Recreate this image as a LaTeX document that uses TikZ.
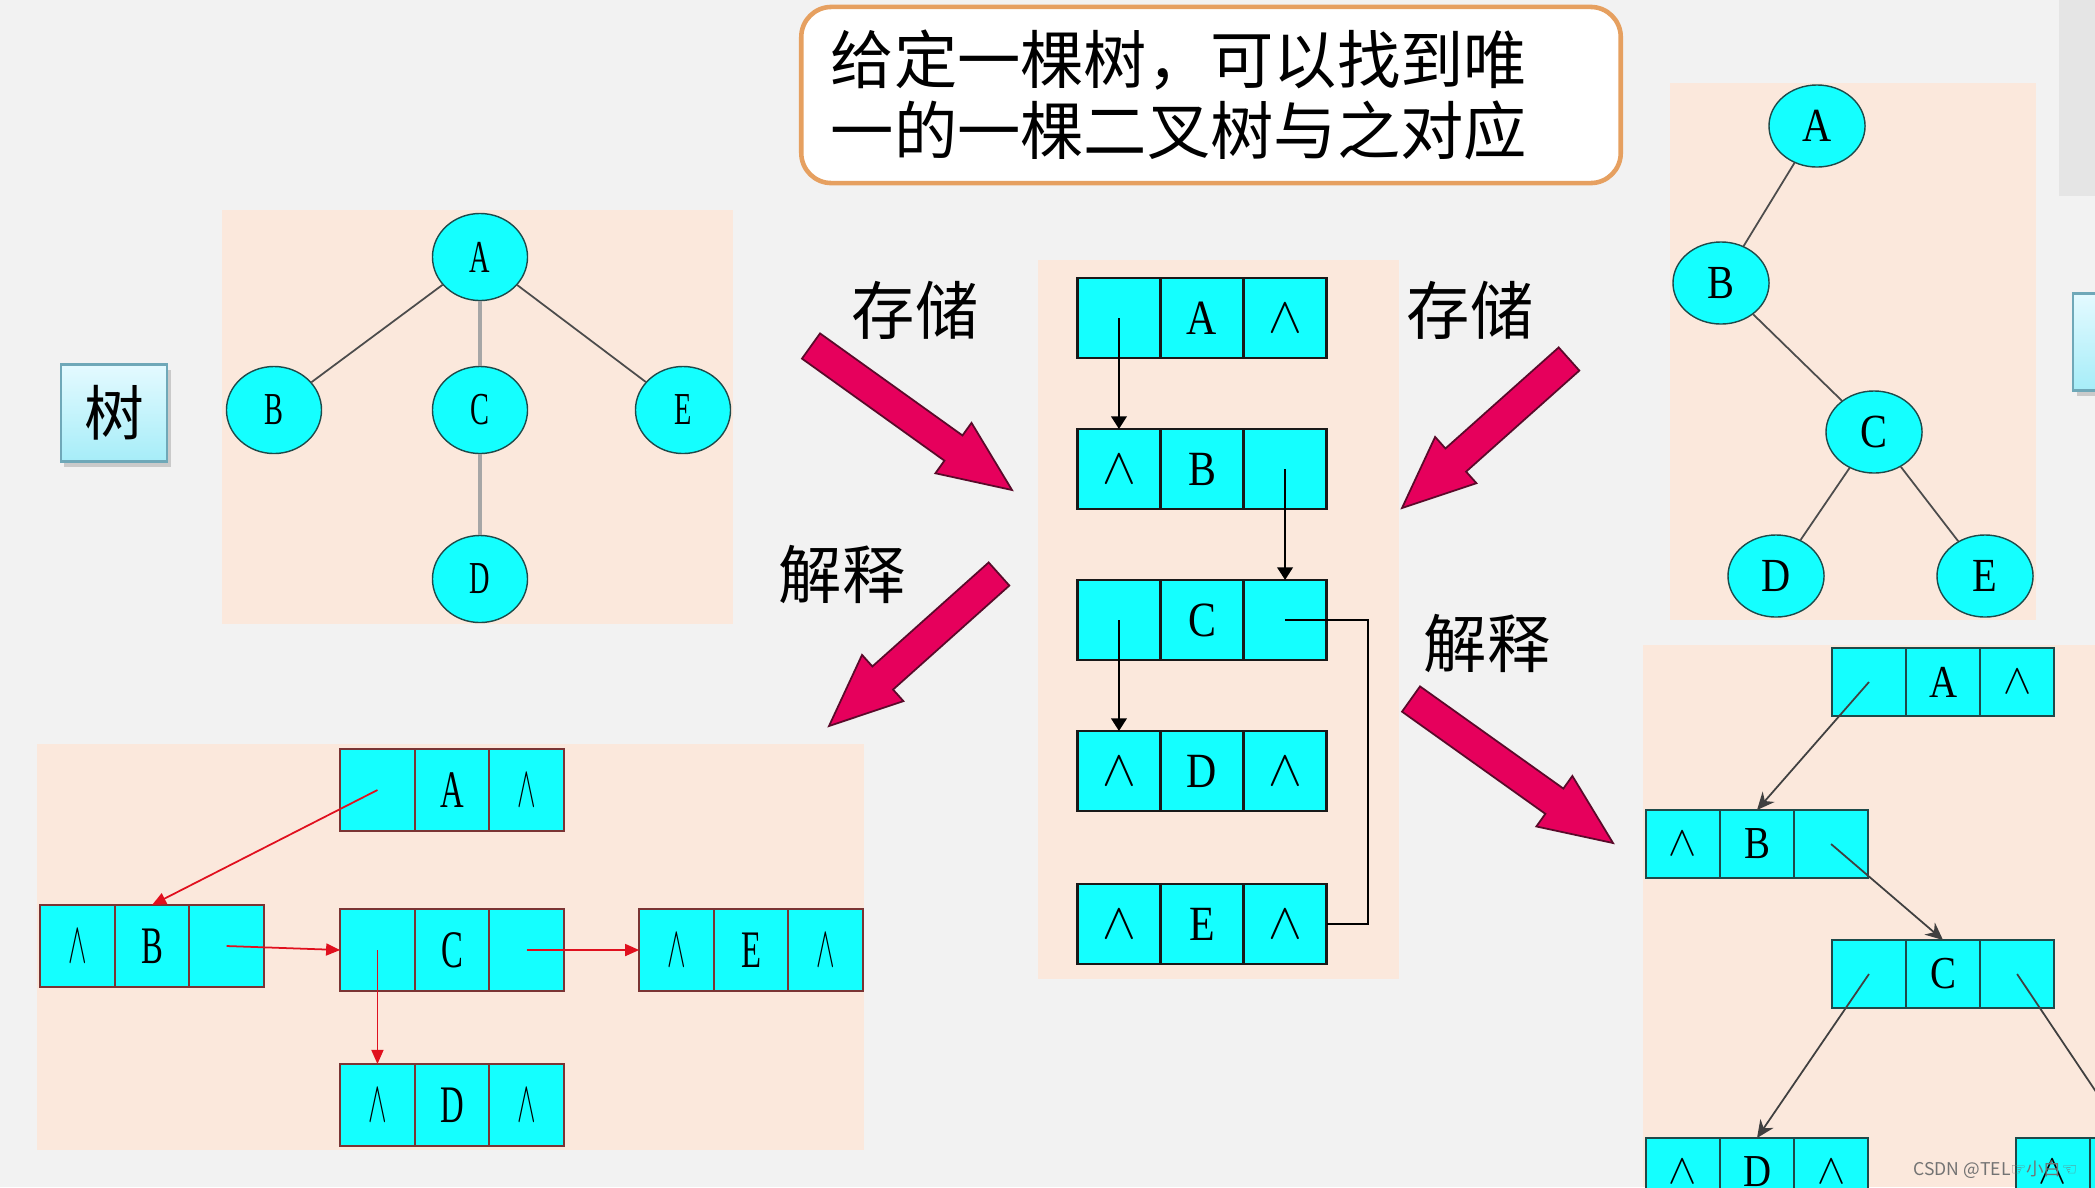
\documentclass[tikz,border=0pt]{standalone}
\usepackage{fontspec}
\usepackage{graphicx}
\setmainfont{Liberation Serif}
\newfontfamily\cjk{Noto Sans CJK SC}
\newfontfamily\narrowserif[FakeStretch=0.62]{Liberation Serif}
\newfontfamily\midserif[FakeStretch=0.85]{Liberation Serif}
\newfontfamily\symfont{DejaVu Sans}
\usetikzlibrary{shapes.geometric, arrows.meta, positioning, calc, shadows}

\definecolor{pagebg}{HTML}{F2F2F2}
\definecolor{peach}{HTML}{FBE8DC}
\definecolor{cellcyan}{HTML}{14FFFF}
\definecolor{nodeline}{HTML}{1E4A4A}
\definecolor{linkred}{HTML}{E0101E}
\definecolor{boxred}{HTML}{7A3434}
\definecolor{fatpink}{HTML}{E6005C}
\definecolor{fatedge}{HTML}{5A0A2A}
\definecolor{noteedge}{HTML}{E6A060}
\definecolor{skytop}{HTML}{E4FAFF}
\definecolor{skybot}{HTML}{A6EDF8}
\definecolor{boxedge}{HTML}{6FA8B8}

% null pointer marks
\newcommand{\nullmark}{$\wedge$}
\newcommand{\thinnull}{\scalebox{0.55}[1.15]{$\wedge$}}

% three-cell list node: name, centre, left, data, right, cell style
\newcommand{\listrow}[6]{%
  \node[#6] (#1-m) at #2 {#4};
  \node[#6, left=0pt of #1-m] (#1-l) {#3};
  \node[#6, right=0pt of #1-m] (#1-r) {#5};%
}

% fat block arrow: name, tail, tip
\newcommand{\fatarrow}[3]{%
  \coordinate (#1-t) at #2;
  \coordinate (#1-p) at #3;
  \coordinate (#1-n) at ($(#1-p)!0.72cm!(#1-t)$);
  \filldraw[fat] ($(#1-t)!0.155cm!90:(#1-p)$) -- ($(#1-n)!0.155cm!90:(#1-p)$)
    -- ($(#1-n)!0.31cm!90:(#1-p)$) -- (#1-p)
    -- ($(#1-n)!0.31cm!-90:(#1-p)$) -- ($(#1-n)!0.155cm!-90:(#1-p)$)
    -- ($(#1-t)!0.155cm!-90:(#1-p)$) -- cycle;%
}

\begin{document}
\begin{tikzpicture}[
  x=0.01cm, y=-0.01cm,
  panel/.style   = {fill=peach},
  tnode/.style   = {ellipse, draw=nodeline, fill=cellcyan, minimum width=0.95cm,
                    minimum height=0.87cm, inner sep=0pt,
                    font=\narrowserif\fontsize{13}{13}\selectfont},
  bnode/.style   = {tnode, minimum width=0.96cm, minimum height=0.82cm,
                    font=\midserif\fontsize{13.5}{13.5}\selectfont},
  tedge/.style   = {draw=black!70, line width=0.5pt},
  gedge/.style   = {draw=black!35, line width=1.1pt},
  mcell/.style   = {draw=black!90, line width=0.8pt, fill=cellcyan, minimum width=0.83cm,
                    minimum height=0.8cm, inner sep=0pt, outer sep=0pt,
                    font=\midserif\fontsize{14}{14}\selectfont},
  lcell/.style   = {draw=boxred, line width=0.6pt, fill=cellcyan, minimum width=0.745cm,
                    minimum height=0.82cm, inner sep=0pt, outer sep=0pt,
                    font=\narrowserif\fontsize{15}{15}\selectfont},
  rcell/.style   = {draw=nodeline, line width=0.7pt, fill=cellcyan, minimum width=0.74cm,
                    minimum height=0.68cm, inner sep=0pt, outer sep=0pt,
                    font=\midserif\fontsize{13}{13}\selectfont},
  blink/.style   = {-{Triangle[length=3.6pt, width=4.4pt]}, line width=0.7pt},
  redlink/.style = {-{Triangle[length=4pt, width=3.4pt]}, draw=linkred, line width=0.5pt,
                    fill=linkred},
  slink/.style   = {-{Stealth[length=5pt, width=4.5pt]}, draw=black!75, line width=0.5pt},
  actword/.style = {font=\cjk\fontsize{18}{18}\selectfont},
  fat/.style     = {fill=fatpink, draw=fatedge, line width=0.5pt, line join=miter},
  treebox/.style = {draw=boxedge, line width=0.8pt, top color=skytop, bottom color=skybot,
                    minimum width=1.06cm, minimum height=0.97cm,
                    font=\cjk\fontsize{17}{17}\selectfont,
                    drop shadow={shadow xshift=1pt, shadow yshift=-1.5pt, opacity=0.35}},
  note/.style    = {draw=noteedge, line width=1.3pt, fill=white, rounded corners=0.3cm,
                    minimum width=8.19cm, minimum height=1.76cm, text width=7.6cm,
                    inner xsep=0.295cm, align=left, font=\cjk\fontsize{18}{20}\selectfont}
]
  \useasboundingbox (0,0) rectangle (2095,1187);
  \fill[pagebg] (0,0) rectangle (2095,1187);

  % Right margin
  \fill[black!10] (2059,0) rectangle (2095,196);
  \node[treebox] (nextbox) at (2126,342) {};

  % Panels
  \fill[panel] (222,210) rectangle (733,624);
  \fill[panel] (1038,260) rectangle (1399,979);
  \fill[panel] (37,744) rectangle (864,1150);
  \fill[panel] (1670,83) rectangle (2036,620);
  \fill[panel] (1643,645) rectangle (2095,1187);

  % Caption
  \node[note] (note) at (1211,95) {给定一棵树，可以找到唯\\一的一棵二叉树与之对应};
  \node[treebox] (shu) at (114,413) {树};

  % Tree
  \node[tnode] (ta) at (480,257) {A};
  \node[tnode] (tb) at (274,410) {B};
  \node[tnode] (tc) at (480,410) {C};
  \node[tnode] (te) at (683,410) {E};
  \node[tnode] (td) at (480,579) {D};
  \draw[tedge] (ta) -- (tb);
  \draw[gedge] (ta) -- (tc);
  \draw[tedge] (ta) -- (te);
  \draw[gedge] (tc) -- (td);

  % Binary tree
  \node[bnode] (ba) at (1817,126) {A};
  \node[bnode] (bb) at (1721,283) {B};
  \node[bnode] (bc) at (1874,432) {C};
  \node[bnode] (bd) at (1776,576) {D};
  \node[bnode] (be) at (1985,576) {E};
  \draw[tedge] (ba) -- (bb);
  \draw[tedge] (bb) -- (bc);
  \draw[tedge] (bc) -- (bd);
  \draw[tedge] (bc) -- (be);

  % Child-sibling storage
  \listrow{ma}{(1202,318)}{}{A}{\nullmark}{mcell}
  \listrow{mb}{(1202,469)}{\nullmark}{B}{}{mcell}
  \listrow{mc}{(1202,620)}{}{C}{}{mcell}
  \listrow{md}{(1202,771)}{\nullmark}{D}{\nullmark}{mcell}
  \listrow{me}{(1202,924)}{\nullmark}{E}{\nullmark}{mcell}
  \draw[blink] (ma-l.center) -- (mb-l.north);
  \draw[blink] (mb-r.center) -- (mc-r.north);
  \draw[blink] (mc-l.center) -- (md-l.north);
  \draw[line width=0.7pt] (mc-r.center) -- ++(83,0) |- (me-r.east);

  % Read back as tree
  \listrow{la}{(452,790)}{}{A}{\thinnull}{lcell}
  \listrow{lb}{(152,946)}{\thinnull}{B}{}{lcell}
  \listrow{lc}{(452,950)}{}{C}{}{lcell}
  \listrow{le}{(751,950)}{\thinnull}{E}{\thinnull}{lcell}
  \listrow{ld}{(452,1105)}{\thinnull}{D}{\thinnull}{lcell}
  \draw[redlink] (la-l.center) -- (lb-m.north);
  \draw[redlink] (lb-r.center) -- (lc-l.west);
  \draw[redlink] (lc-r.center) -- (le-l.west);
  \draw[redlink] (lc-l.center) -- (ld-l.north);

  % Read back as binary tree
  \listrow{ra}{(1943,682)}{}{A}{\nullmark}{rcell}
  \listrow{rb}{(1757,844)}{\nullmark}{B}{}{rcell}
  \listrow{rc}{(1943,974)}{}{C}{}{rcell}
  \listrow{rd}{(1757,1172)}{\nullmark}{D}{\nullmark}{rcell}
  \listrow{re}{(2127,1172)}{\nullmark}{}{}{rcell}
  \draw[slink] (ra-l.center) -- (rb-m.north);
  \draw[slink] (rb-r.center) -- (rc-m.north);
  \draw[slink] (rc-l.center) -- (rd-m.north);
  \draw[slink] (rc-r.center) -- (re-m.north);

  % Big arrows and their words
  \node[actword] (store1) at (915,310) {存储};
  \node[actword] (read1)  at (842,574) {解释};
  \node[actword] (store2) at (1470,310) {存储};
  \node[actword] (read2)  at (1487,643) {解释};
  \fatarrow{fa}{(811,346)}{(1012,490)}
  \fatarrow{fb}{(999,574)}{(829,726)}
  \fatarrow{fc}{(1569,359)}{(1402,508)}
  \fatarrow{fd}{(1411,699)}{(1613,843)}

  % Watermark
  \node[anchor=east, text=black!55, inner sep=0pt, font=\cjk\fontsize{5}{5}\selectfont]
    (mark) at (2078,1170) {CSDN @TEL{\symfont ☞}小白{\symfont ☜}};
\end{tikzpicture}
\end{document}
